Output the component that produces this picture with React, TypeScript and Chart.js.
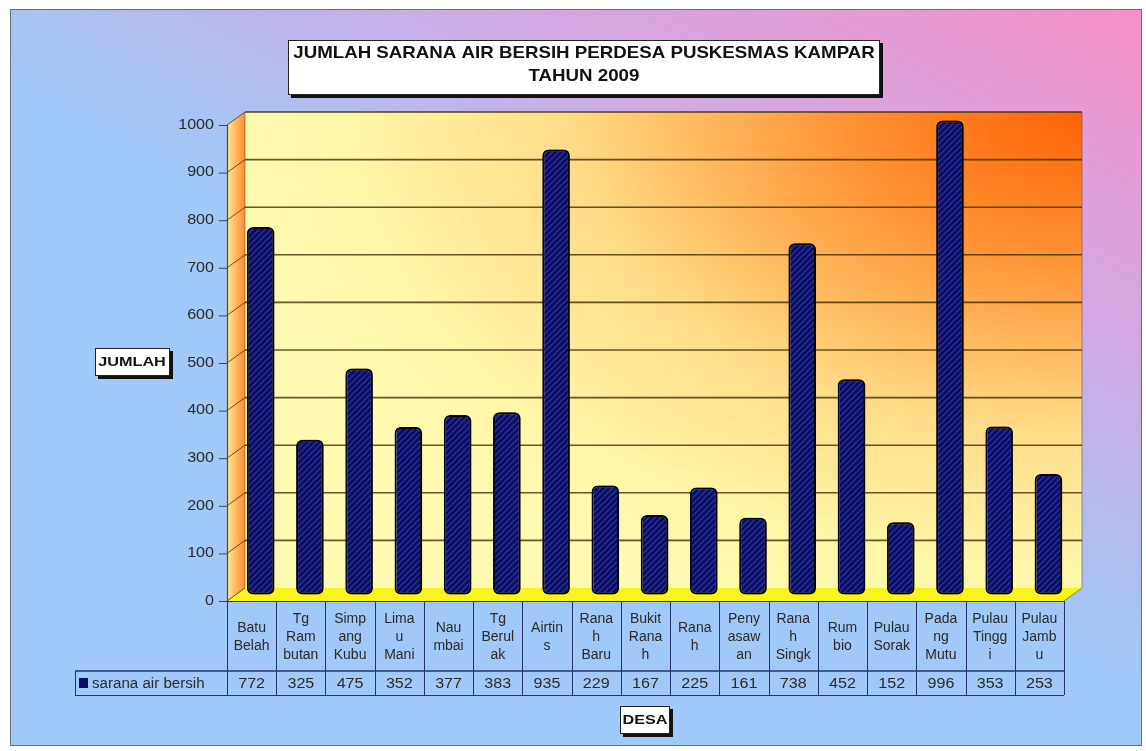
import React, { useEffect, useRef } from "react";
import { Chart, registerables } from "chart.js";

Chart.register(...registerables);

const TITLE_LINES = ["JUMLAH SARANA AIR BERSIH PERDESA PUSKESMAS KAMPAR", "TAHUN 2009"];
const Y_TITLE = "JUMLAH";
const X_TITLE = "DESA";
const SERIES_NAME = "sarana air bersih";
const CATEGORY_LABELS: string[][] = [
  ["Batu", "Belah"],
  ["Tg", "Ram", "butan"],
  ["Simp", "ang", "Kubu"],
  ["Lima", "u", "Mani"],
  ["Nau", "mbai"],
  ["Tg", "Berul", "ak"],
  ["Airtin", "s"],
  ["Rana", "h", "Baru"],
  ["Bukit", "Rana", "h"],
  ["Rana", "h"],
  ["Peny", "asaw", "an"],
  ["Rana", "h", "Singk"],
  ["Rum", "bio"],
  ["Pulau", "Sorak"],
  ["Pada", "ng", "Mutu"],
  ["Pulau", "Tingg", "i"],
  ["Pulau", "Jamb", "u"],
];
const VALUES: number[] = [772, 325, 475, 352, 377, 383, 935, 229, 167, 225, 161, 738, 452, 152, 996, 353, 253];
const Y_MIN = 0;
const Y_MAX = 1000;
const Y_STEP = 100;

const FONT_FAMILY = "'Liberation Sans', Arial, sans-serif";

function drawText(
  ctx: CanvasRenderingContext2D,
  text: string,
  x: number,
  y: number,
  font: string,
  align: CanvasTextAlign,
  sx: number,
  color: string
) {
  ctx.save();
  ctx.font = font;
  ctx.fillStyle = color;
  ctx.textBaseline = "middle";
  ctx.textAlign = align;
  ctx.translate(x, y);
  ctx.scale(sx, 1);
  ctx.fillText(text, 0, 0);
  ctx.restore();
}

function shadowBox(ctx: CanvasRenderingContext2D, x: number, y: number, w: number, h: number, sh: number) {
  ctx.save();
  ctx.fillStyle = "#111";
  ctx.fillRect(x + sh, y + sh, w, h);
  ctx.fillStyle = "#ffffff";
  ctx.fillRect(x, y, w, h);
  ctx.strokeStyle = "#222";
  ctx.lineWidth = 1;
  ctx.strokeRect(x + 0.5, y + 0.5, w - 1, h - 1);
  ctx.restore();
}

const DX = 18; // depth offset x
const DY = -13; // depth offset y

const decorPlugin = {
  id: "decor",
  beforeDraw(chart: any) {
    const ctx: CanvasRenderingContext2D = chart.ctx;
    const { left, right, top, bottom } = chart.chartArea;
    const yScale = chart.scales.y;
    const W = chart.width;
    const H = chart.height;
    ctx.save();
    ctx.fillStyle = "#ffffff";
    ctx.fillRect(0, 0, W, H);

    // outer frame
    const fx = 10, fy = 9, fw = 1131, fh = 736;
    const g = ctx.createLinearGradient(282, 220, 566, -309);
    g.addColorStop(0, "#a0c8f8");
    g.addColorStop(0.5, "#d2a8e2");
    g.addColorStop(1, "#f990c6");
    ctx.fillStyle = g;
    ctx.fillRect(fx, fy, fw, fh);
    ctx.strokeStyle = "#6a6a7a";
    ctx.lineWidth = 1;
    ctx.strokeRect(fx + 0.5, fy + 0.5, fw, fh);

    // back wall (elliptical gradient from top-right corner)
    const bl = left + DX, br = right + DX, bt = top + DY, bb = bottom + DY;
    ctx.save();
    ctx.beginPath();
    ctx.rect(bl, bt, br - bl, bb - bt);
    ctx.clip();
    ctx.translate(br, bt);
    ctx.scale(1, 0.62);
    const rg = ctx.createRadialGradient(0, 0, 0, 0, 0, 860);
    rg.addColorStop(0, "#ff6206");
    rg.addColorStop(0.28, "#ff9434");
    rg.addColorStop(0.6, "#ffdc88");
    rg.addColorStop(0.85, "#fff6a8");
    rg.addColorStop(1, "#fffab2");
    ctx.fillStyle = rg;
    ctx.fillRect(-2000, -2000, 4000, 4000);
    ctx.restore();

    // side wall
    const sg = ctx.createLinearGradient(left, 0, bl, 0);
    sg.addColorStop(0, "#ffe890");
    sg.addColorStop(1, "#ff8a30");
    ctx.fillStyle = sg;
    ctx.beginPath();
    ctx.moveTo(left, bottom);
    ctx.lineTo(left, top);
    ctx.lineTo(bl, bt);
    ctx.lineTo(bl, bb);
    ctx.closePath();
    ctx.fill();

    // floor
    ctx.fillStyle = "#f8f41c";
    ctx.beginPath();
    ctx.moveTo(left, bottom);
    ctx.lineTo(right, bottom);
    ctx.lineTo(br, bb);
    ctx.lineTo(bl, bb);
    ctx.closePath();
    ctx.fill();
    ctx.strokeStyle = "rgba(80,80,0,0.6)";
    ctx.lineWidth = 1;
    ctx.beginPath();
    ctx.moveTo(right, bottom);
    ctx.lineTo(br, bb);
    ctx.stroke();

    // grid lines and ticks
    const tickVals: number[] = (yScale.ticks || []).map((t: any) => t.value);
    for (const v of tickVals) {
      const y = yScale.getPixelForValue(v);
      if (v !== Y_MIN) {
        ctx.strokeStyle = "rgba(60,40,0,0.78)";
        ctx.lineWidth = 1.6;
        ctx.beginPath();
        ctx.moveTo(bl, y + DY);
        ctx.lineTo(br, y + DY);
        ctx.stroke();
      }
      ctx.strokeStyle = "rgba(70,50,20,0.8)";
      ctx.lineWidth = 1;
      ctx.beginPath();
      ctx.moveTo(left, y);
      ctx.lineTo(bl, y + DY);
      ctx.stroke();
      ctx.strokeStyle = "#444";
      ctx.beginPath();
      ctx.moveTo(left - 8, y + 0.5);
      ctx.lineTo(left, y + 0.5);
      ctx.stroke();
      drawText(ctx, String(v), left - 13, y, `14px ${FONT_FAMILY}`, "right", 1.15, "#2a2a2a");
    }
    // wall outline
    ctx.strokeStyle = "rgba(90,70,30,0.5)";
    ctx.lineWidth = 1;
    ctx.beginPath();
    ctx.moveTo(bl, bb);
    ctx.lineTo(bl, bt);
    ctx.lineTo(br, bt);
    ctx.lineTo(br, bb);
    ctx.stroke();

    // axis line
    ctx.strokeStyle = "#4a4a4a";
    ctx.lineWidth = 1.2;
    ctx.beginPath();
    ctx.moveTo(left + 0.5, top);
    ctx.lineTo(left + 0.5, bottom);
    ctx.stroke();

    // title
    shadowBox(ctx, 288, 40, 592, 55, 3);
    drawText(ctx, TITLE_LINES[0], 584, 53, `bold 17px ${FONT_FAMILY}`, "center", 1.1, "#111");
    drawText(ctx, TITLE_LINES[1], 584, 76, `bold 17px ${FONT_FAMILY}`, "center", 1.1, "#111");

    // axis titles
    shadowBox(ctx, 95, 348, 75, 28, 3);
    drawText(ctx, Y_TITLE, 132, 362, `bold 13px ${FONT_FAMILY}`, "center", 1.25, "#111");
    shadowBox(ctx, 620, 706, 50, 28, 3);
    drawText(ctx, X_TITLE, 645, 720, `bold 13px ${FONT_FAMILY}`, "center", 1.25, "#111");
    ctx.restore();
  },
  beforeDatasetsDraw(chart: any) {
    const ctx: CanvasRenderingContext2D = chart.ctx;
    ctx.save();
    ctx.translate(DX / 2, DY / 2);
    ctx.shadowColor = "rgba(0,0,0,0.55)";
    ctx.shadowOffsetX = 3;
    ctx.shadowOffsetY = 0;
    ctx.shadowBlur = 2;
  },
  afterDatasetsDraw(chart: any) {
    chart.ctx.restore();
  },
  afterDraw(chart: any) {
    const ctx: CanvasRenderingContext2D = chart.ctx;
    const { left, right, bottom } = chart.chartArea;
    const xScale = chart.scales.x;
    const n = CATEGORY_LABELS.length;
    const cw = (right - left) / n;
    const rowSep = bottom + 70;
    const tBottom = bottom + 94;
    const legLeft = 75;
    ctx.save();
    ctx.strokeStyle = "#24346a";
    ctx.lineWidth = 1;
    for (let i = 0; i <= n; i++) {
      const x = Math.round(left + i * cw) + 0.5;
      ctx.beginPath();
      ctx.moveTo(x, bottom);
      ctx.lineTo(x, tBottom);
      ctx.stroke();
    }
    ctx.beginPath();
    ctx.moveTo(left, bottom + 0.5);
    ctx.lineTo(right, bottom + 0.5);
    ctx.stroke();
    ctx.lineWidth = 1.5;
    ctx.beginPath();
    ctx.moveTo(legLeft, rowSep);
    ctx.lineTo(right, rowSep);
    ctx.stroke();
    ctx.lineWidth = 1;
    ctx.beginPath();
    ctx.moveTo(legLeft, tBottom + 0.5);
    ctx.lineTo(right, tBottom + 0.5);
    ctx.moveTo(legLeft + 0.5, rowSep);
    ctx.lineTo(legLeft + 0.5, tBottom);
    ctx.stroke();

    const font = `14px ${FONT_FAMILY}`;
    const lh = 18;
    const midLab = (bottom + rowSep) / 2 + 1;
    for (let i = 0; i < n; i++) {
      const cx = xScale.getPixelForValue(i);
      const lines = CATEGORY_LABELS[i];
      const y0 = midLab - ((lines.length - 1) * lh) / 2;
      lines.forEach((s, k) => drawText(ctx, s, cx, y0 + k * lh, font, "center", 1.0, "#2a2a2a"));
      drawText(ctx, String(VALUES[i]), cx, (rowSep + tBottom) / 2 + 1, font, "center", 1.15, "#2a2a2a");
    }
    // legend key
    ctx.fillStyle = "#0c0c60";
    ctx.fillRect(79, rowSep + 7, 9, 10);
    drawText(ctx, SERIES_NAME, 92, (rowSep + tBottom) / 2 + 1, font, "left", 1.08, "#2a2a2a");
    ctx.restore();
  },
};

export default function App() {
  const ref = useRef<HTMLCanvasElement | null>(null);
  useEffect(() => {
    const canvas = ref.current;
    if (!canvas) return;
    const pc = document.createElement("canvas");
    pc.width = 6;
    pc.height = 6;
    const p = pc.getContext("2d")!;
    p.fillStyle = "#0b0b62";
    p.fillRect(0, 0, 6, 6);
    p.strokeStyle = "#3444a6";
    p.lineWidth = 1.1;
    p.beginPath();
    p.moveTo(0, 6);
    p.lineTo(6, 0);
    p.moveTo(-1, 1);
    p.lineTo(1, -1);
    p.moveTo(5, 7);
    p.lineTo(7, 5);
    p.stroke();
    const ctx = canvas.getContext("2d")!;
    const pattern = ctx.createPattern(pc, "repeat");

    const chart = new Chart(canvas, {
      type: "bar",
      data: {
        labels: CATEGORY_LABELS,
        datasets: [
          {
            label: SERIES_NAME,
            data: VALUES,
            backgroundColor: pattern as any,
            borderColor: "#050510",
            borderWidth: 2,
            borderSkipped: false,
            borderRadius: 6,
            barPercentage: 0.56,
            categoryPercentage: 1,
            clip: false as any,
          },
        ],
      },
      plugins: [decorPlugin],
      options: {
        responsive: false,
        animation: false,
        devicePixelRatio: 1,
        layout: { padding: { left: 227, right: 82, top: 125, bottom: 150 } },
        plugins: {
          legend: { display: false },
          title: { display: false },
          tooltip: { enabled: false },
        },
        scales: {
          x: { display: false, offset: true, grid: { display: false } },
          y: {
            display: false,
            min: Y_MIN,
            max: Y_MAX,
            ticks: { stepSize: Y_STEP },
            grid: { display: false },
          },
        },
      },
    });
    return () => chart.destroy();
  }, []);
  return (
    <div style={{ position: "fixed", left: 0, top: 0, width: 1146, height: 751 }}>
      <canvas ref={ref} width={1146} height={751} style={{ display: "block" }} />
    </div>
  );
}
